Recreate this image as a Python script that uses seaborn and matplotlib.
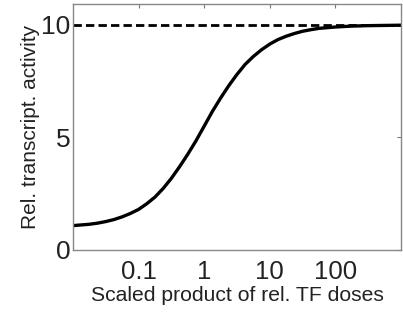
import numpy as np
import pandas as pd
import matplotlib
matplotlib.use("Agg")
import matplotlib.pyplot as plt
import seaborn as sns

# ── Data ─────────────────────────────────────────────────────
DOSE = [0.01, 0.0133, 0.0178, 0.0237, 0.0316, 0.0422, 0.0562, 0.075,
        0.1, 0.133, 0.178, 0.237, 0.316, 0.422, 0.562, 0.75,
        1.0, 1.33, 1.78, 2.37, 3.16, 4.22, 5.62, 7.5,
        10.0, 13.3, 17.8, 23.7, 31.6, 42.2, 56.2, 75.0,
        100.0, 178.0, 316.0, 562.0, 1000.0]
ACTIVITY = [1.08, 1.11, 1.14, 1.19, 1.26, 1.35, 1.47, 1.62,
            1.8, 2.05, 2.35, 2.73, 3.18, 3.7, 4.25, 4.85,
            5.5, 6.15, 6.75, 7.3, 7.8, 8.25, 8.6, 8.9,
            9.15, 9.35, 9.5, 9.62, 9.72, 9.79, 9.85, 9.88,
            9.91, 9.95, 9.97, 9.98, 9.99]
MAX_LEVEL = 10
X_TICKS = [0.1, 1, 10, 100]
X_TICK_LABELS = ["0.1", "1", "10", "100"]
Y_TICKS = [0, 5, 10]

sns.set_style("white")
plt.rcParams["font.family"] = ["Liberation Sans", "DejaVu Sans"]

df = pd.DataFrame({"dose": DOSE, "activity": ACTIVITY})

fig = plt.figure(figsize=(4.03, 3.12), dpi=100)
ax = fig.add_axes([0.181, 0.199, 0.814, 0.788])

sns.lineplot(data=df, x="dose", y="activity", ax=ax, color="black",
             linewidth=2.4)
ax.axhline(MAX_LEVEL, color="black", linestyle=(0, (3, 1.5)), linewidth=2)

ax.set_xscale("log")
ax.set_xlim(0.01, 1000)
ax.set_ylim(0, 10.93)
ax.set_xticks(X_TICKS)
ax.set_xticklabels(X_TICK_LABELS)
ax.set_yticks(Y_TICKS)
ax.minorticks_off()
ax.tick_params(axis="both", direction="in", length=3, width=0.8,
               color="#777777", top=True, right=True, labelcolor="#222222")
ax.tick_params(axis="x", labelsize=18.5, pad=7)
ax.tick_params(axis="y", labelsize=19, pad=2)

for sp in ax.spines.values():
    sp.set_color("#888888")
    sp.set_linewidth(1.0)

ax.set_xlabel("Scaled product of rel. TF doses", fontsize=15.2,
              color="#222222", labelpad=2)
ax.set_ylabel("Rel. transcript. activity", fontsize=15,
              color="#222222", labelpad=1)

fig.savefig("out.png", dpi=100)
plt.close(fig)
